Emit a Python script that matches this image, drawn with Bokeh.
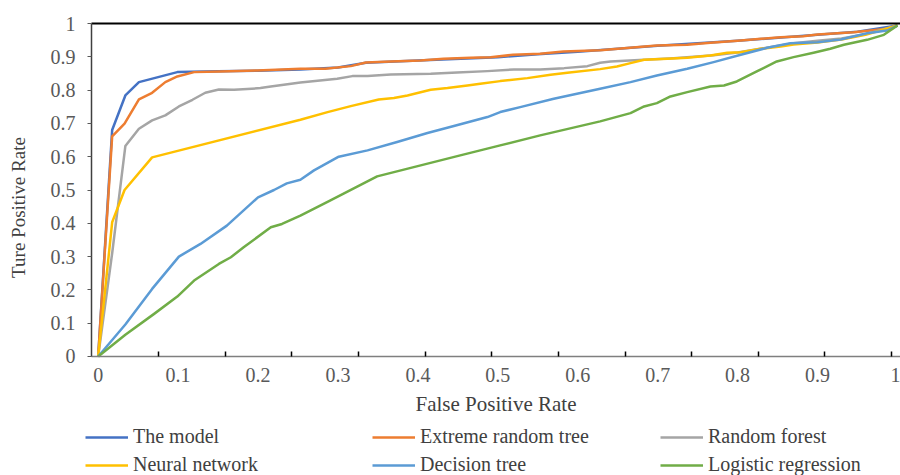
import math
from bokeh.plotting import figure
from bokeh.models import (Range1d, FixedTicker, Legend, LegendItem, Label, LinearAxis)
from bokeh.embed import file_html
from bokeh.resources import INLINE

# ---------------- data ----------------
model_x = [0, 0.0175, 0.034, 0.051, 0.099, 0.15, 0.2, 0.253, 0.3, 0.335, 0.4, 0.5,
           0.55, 0.6, 0.7, 0.8, 0.9, 0.95, 1.0]
model_y = [0, 0.68, 0.784, 0.824, 0.854, 0.857, 0.858, 0.862, 0.868, 0.882, 0.889, 0.899,
           0.908, 0.915, 0.933, 0.948, 0.966, 0.975, 0.994]

ert_x = [0, 0.0175, 0.033, 0.051, 0.0675, 0.084, 0.099, 0.12, 0.153, 0.199, 0.253, 0.284,
         0.316, 0.335, 0.366, 0.403, 0.432, 0.466, 0.491, 0.519, 0.553, 0.582, 0.628, 0.699,
         0.737, 0.766, 0.804, 0.854, 0.882, 0.9, 0.945, 0.987, 1.0]
ert_y = [0, 0.661, 0.699, 0.772, 0.792, 0.824, 0.841, 0.854, 0.856, 0.859, 0.864, 0.864,
         0.872, 0.883, 0.886, 0.889, 0.894, 0.897, 0.899, 0.906, 0.909, 0.916, 0.92, 0.934,
         0.936, 0.942, 0.949, 0.959, 0.962, 0.967, 0.974, 0.984, 0.994]

rf_x = [0, 0.0175, 0.034, 0.051, 0.0675, 0.084, 0.101, 0.118, 0.134, 0.151, 0.17, 0.203,
        0.216, 0.253, 0.299, 0.318, 0.337, 0.366, 0.416, 0.449, 0.487, 0.52, 0.553, 0.583,
        0.612, 0.628, 0.641, 0.683, 0.72, 0.77, 0.8, 0.83, 0.87, 0.9, 0.93, 0.96, 1.0]
rf_y = [0, 0.31, 0.632, 0.684, 0.709, 0.724, 0.751, 0.771, 0.792, 0.802, 0.801, 0.806,
        0.811, 0.823, 0.834, 0.842, 0.842, 0.847, 0.849, 0.853, 0.857, 0.862, 0.862, 0.866,
        0.872, 0.882, 0.886, 0.891, 0.896, 0.905, 0.913, 0.925, 0.941, 0.948, 0.955, 0.968, 0.994]

nn_x = [0, 0.0175, 0.033, 0.0675, 0.253, 0.287, 0.316, 0.351, 0.37, 0.387, 0.416, 0.437,
        0.462, 0.478, 0.503, 0.537, 0.566, 0.587, 0.628, 0.649, 0.666, 0.683, 0.712, 0.737,
        0.766, 0.787, 0.804, 0.829, 0.854, 0.87, 0.9, 0.93, 0.96, 1.0]
nn_y = [0, 0.403, 0.5, 0.598, 0.711, 0.734, 0.752, 0.772, 0.776, 0.784, 0.801, 0.806,
        0.814, 0.819, 0.827, 0.836, 0.846, 0.852, 0.863, 0.871, 0.881, 0.891, 0.894, 0.897,
        0.904, 0.912, 0.914, 0.924, 0.931, 0.937, 0.943, 0.952, 0.966, 0.994]

dt_x = [0, 0.034, 0.0675, 0.101, 0.128, 0.161, 0.2, 0.22, 0.236, 0.253, 0.27, 0.301,
        0.337, 0.374, 0.412, 0.445, 0.487, 0.503, 0.528, 0.57, 0.628, 0.666, 0.699, 0.737,
        0.77, 0.804, 0.837, 0.866, 0.9, 0.929, 0.962, 0.987, 1.0]
dt_y = [0, 0.096, 0.203, 0.3, 0.338, 0.393, 0.478, 0.5, 0.52, 0.531, 0.559, 0.6,
        0.619, 0.644, 0.671, 0.692, 0.719, 0.734, 0.749, 0.774, 0.804, 0.824, 0.844, 0.864,
        0.884, 0.906, 0.927, 0.941, 0.944, 0.952, 0.971, 0.979, 0.994]

lr_x = [0, 0.034, 0.07, 0.099, 0.12, 0.151, 0.166, 0.182, 0.216, 0.23, 0.253, 0.29,
        0.349, 0.453, 0.503, 0.553, 0.628, 0.666, 0.683, 0.699, 0.716, 0.737, 0.766, 0.783,
        0.799, 0.824, 0.849, 0.87, 0.895, 0.916, 0.933, 0.962, 0.983, 1.0]
lr_y = [0, 0.065, 0.128, 0.18, 0.228, 0.278, 0.298, 0.328, 0.388, 0.398, 0.423, 0.468,
        0.541, 0.604, 0.634, 0.664, 0.706, 0.731, 0.751, 0.761, 0.781, 0.794, 0.811, 0.814,
        0.826, 0.856, 0.886, 0.899, 0.912, 0.924, 0.936, 0.951, 0.966, 0.994]

series_names = ["The model", "Extreme random tree", "Random forest",
                "Neural network", "Decision tree", "Logistic regression"]
series_colors = ["#4472C4", "#ED7D31", "#A5A5A5", "#FFC000", "#5B9BD5", "#70AD47"]

tick_values = [0, 0.1, 0.2, 0.3, 0.4, 0.5, 0.6, 0.7, 0.8, 0.9, 1]
tick_labels = ["0", "0.1", "0.2", "0.3", "0.4", "0.5", "0.6", "0.7", "0.8", "0.9", "1"]
x_mark_ticks = [0.0758 + k * (1 / 12) for k in range(12)]

x_title = "False Positive Rate"
y_title = "Ture Positive Rate"

# ---------------- figure ----------------
FONT = "Liberation Serif"
TXT = "#595959"
DARK = "#404040"

# plot box edges in data units (box spans x from X0 to X1, y from 0 to 1)
X0, X1 = -0.0084, 1.0038

# the frame covers the whole canvas; axes are pinned at the plot-box edges
p = figure(width=900, height=475, output_backend="svg", toolbar_location=None,
           x_range=Range1d(-0.1222, X1), y_range=Range1d(-0.3574, 1.0691))
p.min_border = 0
p.outline_line_color = None
p.grid.visible = False
p.background_fill_color = "white"
p.border_fill_color = "white"

xa = p.below[0]
ya = p.left[0]

xs = [model_x, ert_x, rf_x, nn_x, dt_x, lr_x]
ys = [model_y, ert_y, rf_y, nn_y, dt_y, lr_y]
renderers = []
for x, y, c in zip(xs, ys, series_colors):
    r = p.line(x, y, line_color=c, line_width=2.5, line_join="round")
    renderers.append(r)

# x axis (pinned at y = 0)
xa.fixed_location = 0
xa.bounds = (X0, X1)
xa.ticker = FixedTicker(ticks=tick_values, minor_ticks=x_mark_ticks)
xa.major_label_overrides = {t: l for t, l in zip(tick_values, tick_labels)}
xa.major_tick_line_color = None
xa.major_tick_in = 0
xa.major_tick_out = 0
xa.minor_tick_in = 5
xa.minor_tick_out = 0
xa.minor_tick_line_color = "black"
xa.minor_tick_line_width = 1.5
xa.axis_line_color = "#7F7F7F"
xa.axis_line_width = 1.5
xa.major_label_text_font = FONT
xa.major_label_text_font_size = "20px"
xa.major_label_text_color = TXT
xa.major_label_standoff = 12
xa.axis_label = x_title
xa.axis_label_text_font = FONT
xa.axis_label_text_font_size = "21px"
xa.axis_label_text_font_style = "normal"
xa.axis_label_text_color = DARK
xa.axis_label_standoff = 6

# y axis (pinned at the left edge of the plot box)
ya.fixed_location = X0
ya.bounds = (0, 1)
ya.ticker = FixedTicker(ticks=tick_values, minor_ticks=[])
ya.major_label_overrides = {t: l for t, l in zip(tick_values, tick_labels)}
ya.major_tick_in = 0
ya.major_tick_out = 4
ya.major_tick_line_color = "#595959"
ya.minor_tick_line_color = None
ya.axis_line_color = DARK
ya.axis_line_width = 1.5
ya.major_label_text_font = FONT
ya.major_label_text_font_size = "20px"
ya.major_label_text_color = TXT
ya.major_label_standoff = 12

# top border of the plot box (a bare axis line at y = 1)
top = LinearAxis(fixed_location=1, bounds=(X0, X1), ticker=FixedTicker(ticks=[]),
                 major_label_text_font_size="0px", major_tick_line_color=None,
                 minor_tick_line_color=None, axis_line_color="black", axis_line_width=2)
p.add_layout(top, "above")

p.add_layout(Label(x=-0.0997, y=0.4474, text=y_title, angle=math.pi / 2,
                   text_align="center", text_baseline="middle",
                   text_font=FONT, text_font_size="19px", text_color=DARK))

# legends: three columns of two rows, at the bottom of the frame
col_x = [85, 372, 660]
for ci in range(3):
    items = [LegendItem(label=series_names[ci], renderers=[renderers[ci]]),
             LegendItem(label=series_names[ci + 3], renderers=[renderers[ci + 3]])]
    lg = Legend(items=items, location=(col_x[ci], -1), orientation="vertical",
                glyph_width=43, glyph_height=20, label_height=20, label_standoff=5,
                spacing=5, padding=0, margin=0, border_line_color=None,
                background_fill_alpha=0, label_text_font=FONT,
                label_text_font_size="20px", label_text_color=DARK)
    p.add_layout(lg, "center")

open("out.html", "w").write(file_html(p, INLINE))
